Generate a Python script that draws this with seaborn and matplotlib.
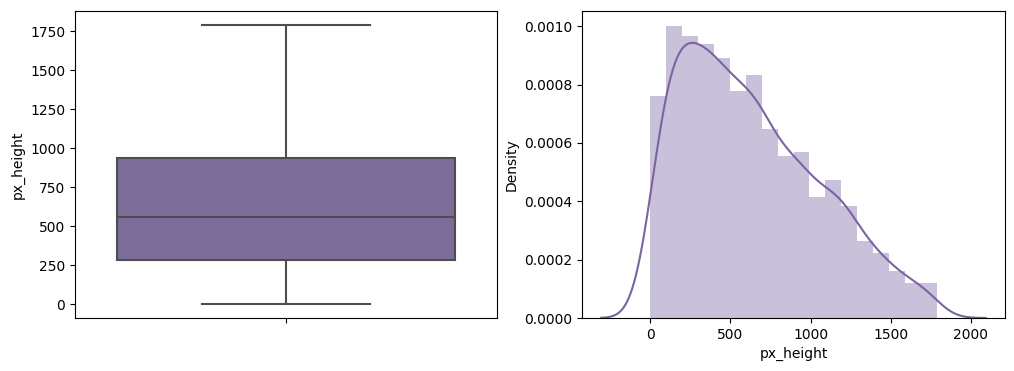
import numpy as np
import pandas as pd
import matplotlib
matplotlib.use("Agg")
import matplotlib.pyplot as plt
import seaborn as sns

# Boxplot summary values (min, Q1, median, Q3, max)
box_values = [0, 285, 558, 935, 1790]

# Histogram: 18 equal-width bins from 0 to ~1788, density heights
hist_lo = 0.0
hist_hi = 1788.0
hist_density = [0.000760, 0.001002, 0.000965, 0.000940, 0.000890, 0.000778,
                0.000832, 0.000648, 0.000556, 0.000570, 0.000413, 0.000474,
                0.000383, 0.000264, 0.000222, 0.000162, 0.000120, 0.000120]

purple = "#7a64a2"

n_bins = len(hist_density)
edges = np.linspace(hist_lo, hist_hi, n_bins + 1)
centers = (edges[:-1] + edges[1:]) / 2
hist_df = pd.DataFrame({"px_height": centers, "w": hist_density})
box_df = pd.DataFrame({"px_height": box_values})

fig = plt.figure(figsize=(10.14, 3.71), dpi=100)
ax1 = fig.add_axes([75/1014, 1-318/371, 422/1014, 307/371])
ax2 = fig.add_axes([582/1014, 1-318/371, 423/1014, 307/371])

sns.boxplot(data=box_df, y="px_height", color=purple, saturation=0.75,
            linecolor="#4d4d4d", linewidth=1.5, ax=ax1)
ax1.set_ylabel("px_height")
ax1.set_xticks([0])
ax1.set_xticklabels([""])

sns.histplot(data=hist_df, x="px_height", weights="w", bins=n_bins,
             binrange=(hist_lo, hist_hi), stat="count",
             color=purple, alpha=0.4, edgecolor="none", linewidth=0, ax=ax2)
sns.kdeplot(data=hist_df, x="px_height", weights="w", bw_adjust=0.39, cut=3.05,
            color=purple, linewidth=1.5, ax=ax2)
ax2.set_ylabel("Density")
ax2.set_xlabel("px_height")
ax2.set_yticks([0, 0.0002, 0.0004, 0.0006, 0.0008, 0.0010])
ax2.set_yticklabels(["0.0000", "0.0002", "0.0004", "0.0006", "0.0008", "0.0010"])

fig.savefig("out.png", dpi=100)
